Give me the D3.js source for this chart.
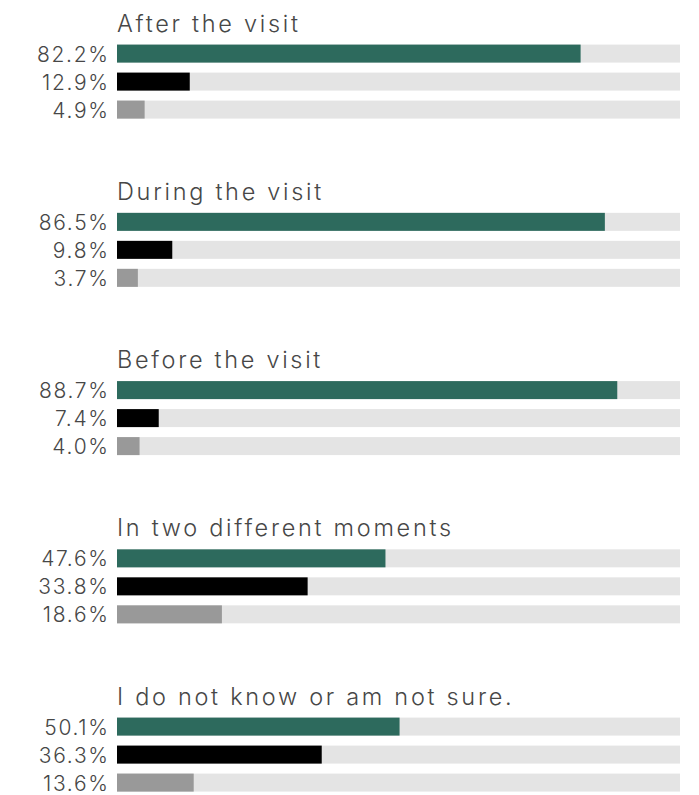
<!DOCTYPE html>
<html>
<head>
<meta charset="utf-8">
<script src="https://cdn.jsdelivr.net/npm/d3@7/dist/d3.min.js"></script>
<style>
  html, body { margin: 0; padding: 0; background: #ffffff; }
  svg { display: block; }
  .title { font-family: "Inter", sans-serif; font-weight: 350; font-size: 23.5px; fill: #474747; letter-spacing: 2.7px; }
  .value { font-family: "Inter", sans-serif; font-weight: 350; font-size: 21px; fill: #474747; letter-spacing: 1.7px; }
</style>
</head>
<body>
<svg id="chart" width="699" height="795"></svg>
<script>
// Question groups (top to bottom)
const groups = [
  "After the visit",
  "During the visit",
  "Before the visit",
  "In two different moments",
  "I do not know or am not sure."
];

// Answer series, one value per group (percent)
const firstValues  = [82.2, 86.5, 88.7, 47.6, 50.1];
const secondValues = [12.9, 9.8, 7.4, 33.8, 36.3];
const thirdValues  = [4.9, 3.7, 4.0, 18.6, 13.6];
const seriesColors = ["#2d6a5d", "#000000", "#999999"];

const allSeries = [firstValues, secondValues, thirdValues];

const svg = d3.select("#chart");

const x = d3.scaleLinear().domain([0, 100]).range([117, 681]);
const trackRight = 680;

// Vertical placement of each group block
const groupY = d3.scalePoint()
  .domain(groups)
  .range([44.6, 717.6]);

const barH = 18;
const rowStep = 28;

const g = svg.selectAll("g.group")
  .data(groups)
  .join("g")
  .attr("class", "group")
  .attr("transform", d => `translate(0,${groupY(d)})`);

g.append("text")
  .attr("class", "title")
  .attr("x", x(0))
  .attr("y", -13)
  .text(d => d);

g.each(function(groupName, gi) {
  const node = d3.select(this);
  const rows = allSeries.map((vals, si) => ({ value: vals[gi], si }));

  const row = node.selectAll("g.row")
    .data(rows)
    .join("g")
    .attr("class", "row")
    .attr("transform", d => `translate(0,${d.si * rowStep})`);

  // background track
  row.append("rect")
    .attr("x", x(0))
    .attr("y", 0)
    .attr("width", trackRight - x(0))
    .attr("height", barH)
    .attr("fill", "#e4e4e4");

  // value bar
  row.append("rect")
    .attr("x", x(0))
    .attr("y", 0)
    .attr("width", d => x(d.value) - x(0))
    .attr("height", barH)
    .attr("fill", d => seriesColors[d.si]);

  // value label (trailing letter-spacing offset added to x)
  row.append("text")
    .attr("class", "value")
    .attr("x", 109.7)
    .attr("y", 17)
    .attr("text-anchor", "end")
    .text(d => d3.format(".1f")(d.value) + "%");
});
</script>
</body>
</html>
